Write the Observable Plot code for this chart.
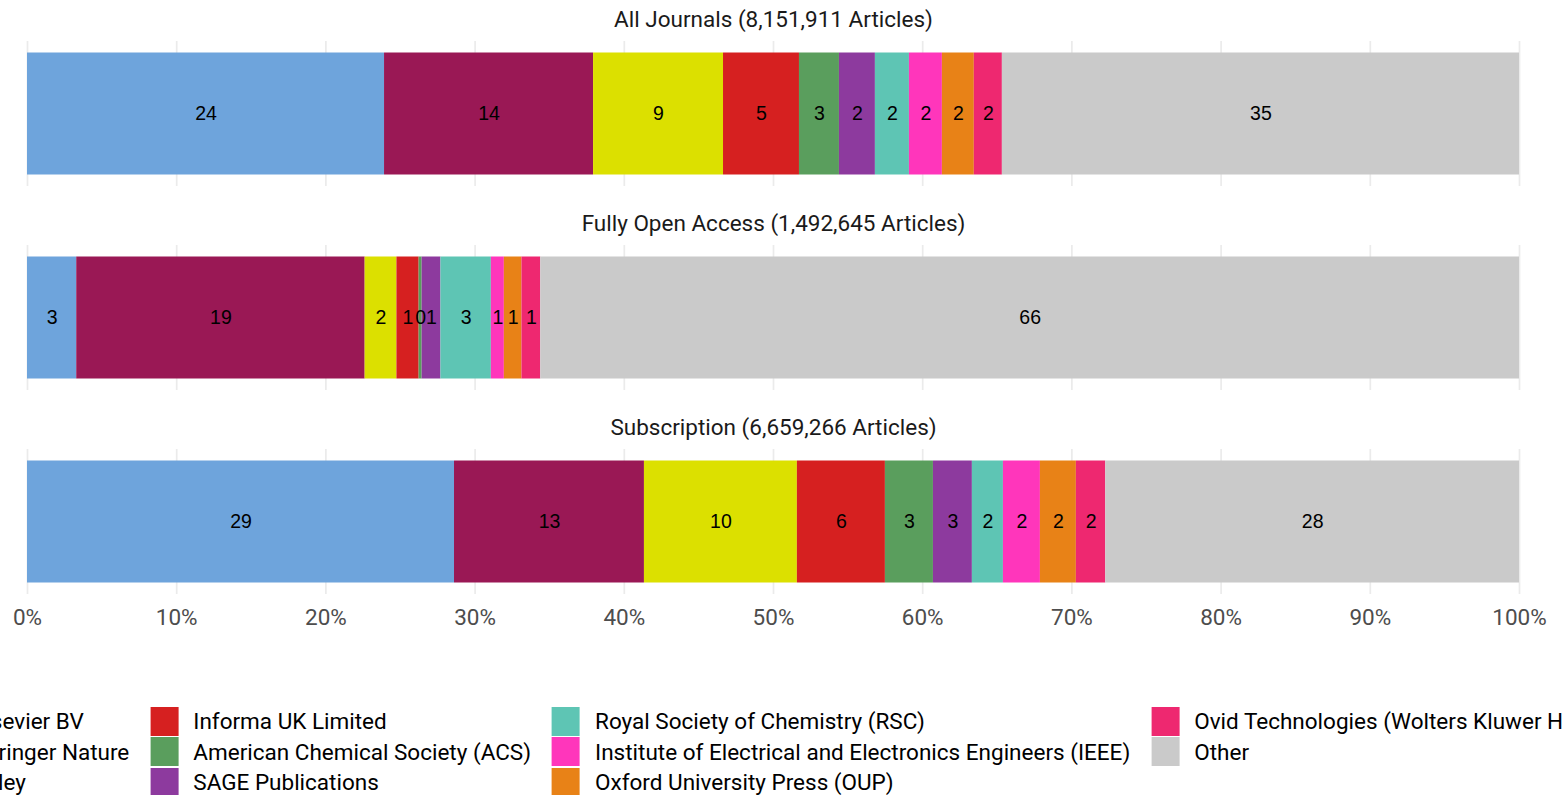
<!DOCTYPE html>
<html>
<head>
<meta charset="utf-8">
<script src="https://cdn.jsdelivr.net/npm/d3@7"></script>
<script src="https://cdn.jsdelivr.net/npm/@observablehq/plot@0.6"></script>
<style>
  html, body { margin: 0; padding: 0; background: #fff; width: 1562px; height: 795px; overflow: hidden; position: relative; font-family: Roboto, sans-serif; }
  #legend { position: absolute; top: 706px; left: 50%; transform: translateX(calc(-50% - 6px)); display: grid; grid-template-rows: repeat(3, 30.6px); grid-auto-flow: column; column-gap: 21px; white-space: nowrap; }
  .item { display: flex; align-items: center; font-size: 22.5px; color: #000; height: 30.6px; }
  .sw { width: 28px; height: 29px; margin-right: 15px; flex: none; }
</style>
</head>
<body>
<div id="chart"></div>
<div id="legend"></div>
<script>
const groups = [
  "All Journals (8,151,911 Articles)",
  "Fully Open Access (1,492,645 Articles)",
  "Subscription (6,659,266 Articles)"
];
const publishers = [
  "Elsevier BV",
  "Springer Nature",
  "Wiley",
  "Informa UK Limited",
  "American Chemical Society (ACS)",
  "SAGE Publications",
  "Royal Society of Chemistry (RSC)",
  "Institute of Electrical and Electronics Engineers (IEEE)",
  "Oxford University Press (OUP)",
  "Ovid Technologies (Wolters Kluwer Health)",
  "Other"
];
const colors = ["#6EA4DC", "#9A1855", "#DCE000", "#D62020", "#5A9E5D", "#8D3A9E", "#5EC5B4", "#FF36BB", "#E88217", "#EE2870", "#CACACA"];
// percent of articles by publisher
const allJournals   = [23.93, 14.01, 8.71, 5.09, 2.68, 2.41, 2.28, 2.21, 2.14, 1.88, 34.66];
const fullyOA       = [3.30, 19.33, 2.13, 1.49, 0.20, 1.26, 3.38, 0.87, 1.18, 1.26, 65.60];
const subscription  = [28.62, 12.73, 10.25, 5.90, 3.22, 2.61, 2.08, 2.48, 2.41, 1.97, 27.73];
const xTicks = [0, 10, 20, 30, 40, 50, 60, 70, 80, 90, 100];

const series = [allJournals, fullyOA, subscription];
const rows = groups.flatMap((g, gi) => publishers.map((p, pi) => ({group: g, publisher: p, value: series[gi][pi]})));

const chart = Plot.plot({
  width: 1562,
  height: 660,
  marginLeft: 27,
  marginRight: 43,
  marginTop: 40,
  marginBottom: 65,
  x: {domain: [0, 100]},
  fy: {domain: groups, paddingInner: 0.288, paddingOuter: 0, axis: null},
  color: {domain: publishers, range: colors},
  style: {fontFamily: "Roboto, sans-serif", background: "white"},
  marks: [
    Plot.gridX(xTicks, {stroke: "#ebebeb", strokeOpacity: 1, strokeWidth: 1.7}),
    Plot.barX(rows, Plot.stackX({x: "value", fy: "group", fill: "publisher", order: publishers, insetTop: 11.5, insetBottom: 11.5})),
    Plot.text(rows, Plot.stackX({x: "value", fy: "group", z: "publisher", order: publishers,
      text: d => Math.round(d.value), fill: "black", fontSize: 19.5, fontFamily: "Liberation Sans, Arial, sans-serif"})),
    Plot.text(groups, {fy: d => d, text: d => d, frameAnchor: "top", dy: -30, fontSize: 22.5, fill: "#1a1a1a"}),
    Plot.axisX(xTicks, {tickFormat: d => d + "%", tickSize: 0, tickPadding: 15, fontSize: 22.5, color: "#4d4d4d", label: null})
  ]
});
document.getElementById("chart").appendChild(chart);

const legend = document.getElementById("legend");
publishers.forEach((p, i) => {
  const item = document.createElement("div");
  item.className = "item";
  const sw = document.createElement("div");
  sw.className = "sw";
  sw.style.background = colors[i];
  const t = document.createElement("span");
  t.textContent = p;
  item.appendChild(sw);
  item.appendChild(t);
  legend.appendChild(item);
});
</script>
</body>
</html>
